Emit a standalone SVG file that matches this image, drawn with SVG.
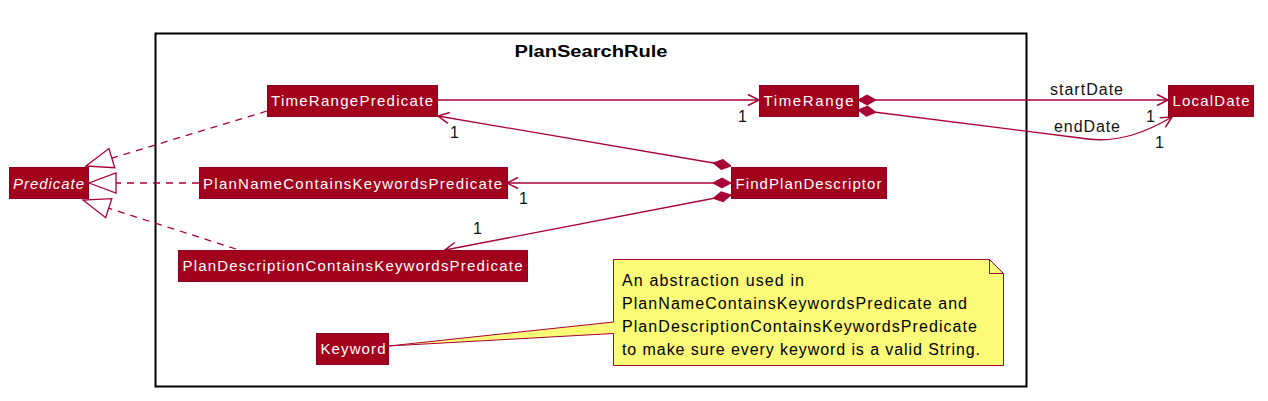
<svg xmlns="http://www.w3.org/2000/svg" width="1268" height="401" viewBox="0 0 1268 401">
<style>
.node rect{fill:#A3001E;stroke:#8E0022;stroke-width:1}
.nt{font-family:"Liberation Sans",Arial,sans-serif;font-size:15px;fill:#FFFFFF;text-anchor:start}
.lbl{font-family:"Liberation Sans",Arial,sans-serif;font-size:16px;fill:#111111}
.edge{fill:none;stroke:#A80036;stroke-width:1.3}
.dash{stroke-dasharray:7,6}
.note{font-family:"Liberation Sans",Arial,sans-serif;font-size:16px;fill:#000000}
</style>
<defs>
<marker id="arrow" markerUnits="userSpaceOnUse" markerWidth="14" markerHeight="14" refX="12" refY="7" orient="auto" viewBox="0 0 14 14">
<path d="M1,1.5 L12,7 L1,12.5" fill="none" stroke="#A80036" stroke-width="1.5"/>
</marker>
<marker id="diamond" markerUnits="userSpaceOnUse" markerWidth="20" markerHeight="12" refX="0" refY="6" orient="auto" viewBox="0 0 20 12">
<path d="M0,6 L9,1 L18,6 L9,11 Z" fill="#A80036" stroke="#A80036" stroke-width="1"/>
</marker>
<marker id="tri" markerUnits="userSpaceOnUse" markerWidth="30" markerHeight="24" refX="28" refY="12" orient="auto" viewBox="0 0 30 24">
<path d="M28,12 L1,2 L1,22 Z" fill="#FFFFFF" stroke="#A80036" stroke-width="1.3"/>
</marker>
</defs>

<g id="package-PlanSearchRule">
<rect x="155.5" y="33.5" width="871" height="353" fill="none" stroke="#000000" stroke-width="2"/>
<text x="591" y="57" text-anchor="middle" font-family="Liberation Sans,Arial,sans-serif" font-size="16" font-weight="bold" textLength="153" lengthAdjust="spacingAndGlyphs">PlanSearchRule</text>
</g>

<g id="connectors">
<path class="edge dash" d="M267,111 L86,166" marker-end="url(#tri)"/>
<path class="edge dash" d="M199,183 L89,183" marker-end="url(#tri)"/>
<path class="edge dash" d="M236,249 L83,200" marker-end="url(#tri)"/>
<path class="edge" d="M437,100 L759,100" marker-end="url(#arrow)"/>
<path class="edge" d="M731,166 L438,116" marker-start="url(#diamond)" marker-end="url(#arrow)"/>
<path class="edge" d="M731,183 L507,183" marker-start="url(#diamond)" marker-end="url(#arrow)"/>
<path class="edge" d="M731,195 L445,250" marker-start="url(#diamond)" marker-end="url(#arrow)"/>
<path class="edge" d="M858,100 L1168,100" marker-start="url(#diamond)" marker-end="url(#arrow)"/>
<path class="edge" d="M858,110 L1088,139 C1120,143 1148,131 1172,117" marker-start="url(#diamond)" marker-end="url(#arrow)"/>
<text class="lbl" x="738" y="122">1</text>
<text class="lbl" x="450" y="138">1</text>
<text class="lbl" x="519" y="204">1</text>
<text class="lbl" x="473" y="234">1</text>
<text class="lbl" x="1050" y="95" textLength="73" lengthAdjust="spacing">startDate</text>
<text class="lbl" x="1146" y="122">1</text>
<text class="lbl" x="1054" y="132" textLength="66" lengthAdjust="spacing">endDate</text>
<text class="lbl" x="1155" y="148">1</text>
</g>

<g id="node-Predicate" class="node">
<rect x="9.5" y="167.5" width="79" height="31"/>
<text class="nt" x="13" y="189" font-style="italic" textLength="71" lengthAdjust="spacing">Predicate</text>
</g>
<g id="node-TimeRangePredicate" class="node">
<rect x="267.5" y="85.5" width="170" height="31"/>
<text class="nt" x="271" y="106" textLength="162" lengthAdjust="spacing">TimeRangePredicate</text>
</g>
<g id="node-PlanNameContainsKeywordsPredicate" class="node">
<rect x="199.5" y="167.5" width="308" height="31"/>
<text class="nt" x="203" y="189" textLength="299" lengthAdjust="spacing">PlanNameContainsKeywordsPredicate</text>
</g>
<g id="node-PlanDescriptionContainsKeywordsPredicate" class="node">
<rect x="178.5" y="250.5" width="349" height="31"/>
<text class="nt" x="182.5" y="271" textLength="340" lengthAdjust="spacing">PlanDescriptionContainsKeywordsPredicate</text>
</g>
<g id="node-TimeRange" class="node">
<rect x="759.5" y="85.5" width="99" height="31"/>
<text class="nt" x="763.5" y="106" textLength="90" lengthAdjust="spacing">TimeRange</text>
</g>
<g id="node-LocalDate" class="node">
<rect x="1168.5" y="85.5" width="85" height="31"/>
<text class="nt" x="1172.5" y="106" textLength="77" lengthAdjust="spacing">LocalDate</text>
</g>
<g id="node-FindPlanDescriptor" class="node">
<rect x="731.5" y="167.5" width="155" height="31"/>
<text class="nt" x="735.5" y="189" textLength="146" lengthAdjust="spacing">FindPlanDescriptor</text>
</g>
<g id="node-Keyword" class="node">
<rect x="316.5" y="333.5" width="72" height="31"/>
<text class="nt" x="320.5" y="354" textLength="65" lengthAdjust="spacing">Keyword</text>
</g>

<g id="note-Keyword">
<path d="M613.5,259.5 L989.5,259.5 L1003.5,273.5 L1003.5,365.5 L613.5,365.5 L613.5,333.5 L388.5,346 L613.5,322 Z" fill="#FBFB77" stroke="#A80036" stroke-width="1"/>
<path d="M989.5,259.5 L989.5,273.5 L1003.5,273.5" fill="none" stroke="#A80036" stroke-width="1"/>
<text class="note" x="622" y="286" textLength="182" lengthAdjust="spacing">An abstraction used in</text>
<text class="note" x="622" y="309" textLength="345" lengthAdjust="spacing">PlanNameContainsKeywordsPredicate and</text>
<text class="note" x="622" y="332" textLength="355" lengthAdjust="spacing">PlanDescriptionContainsKeywordsPredicate</text>
<text class="note" x="622" y="355" textLength="358" lengthAdjust="spacing">to make sure every keyword is a valid String.</text>
</g>
</svg>
